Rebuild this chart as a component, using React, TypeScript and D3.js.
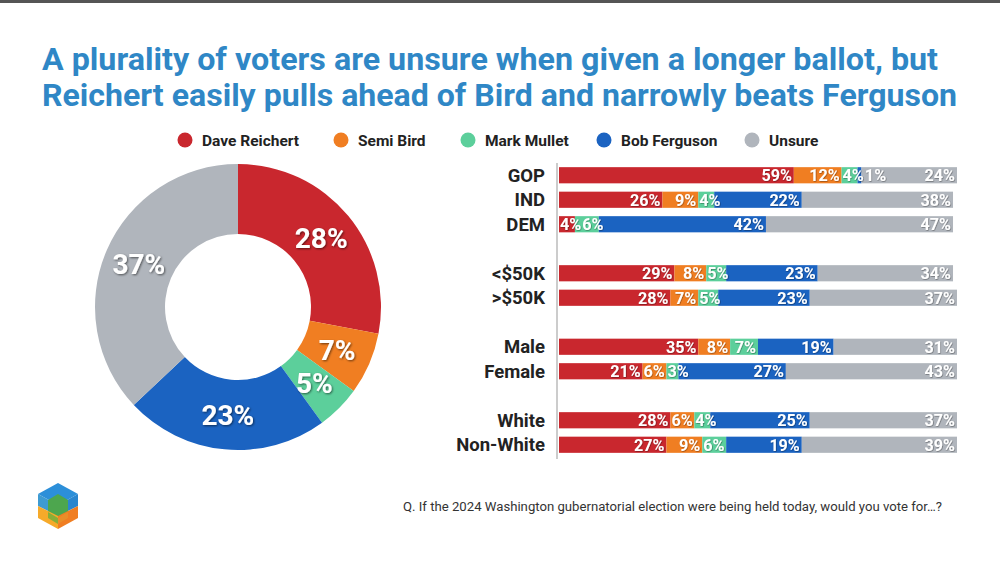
import { useEffect } from 'react';
import * as d3 from 'd3';

// Overall vote share (donut)
const CANDIDATES = ['Dave Reichert', 'Semi Bird', 'Mark Mullet', 'Bob Ferguson', 'Unsure'];
const COLORS = ['#C9272E', '#F07E22', '#5CCF9B', '#1B63C1', '#B0B5BC'];
const OVERALL = [28, 7, 5, 23, 37];

// Crosstab rows (stacked bars)
const GROUPS = ['GOP', 'IND', 'DEM', '<$50K', '>$50K', 'Male', 'Female', 'White', 'Non-White'];
const ROW_SLOTS = ['GOP', 'IND', 'DEM', 'gap1', '<$50K', '>$50K', 'gap2', 'Male', 'Female', 'gap3', 'White', 'Non-White'];
const REICHERT = [59, 26, 4, 29, 28, 35, 21, 28, 27];
const BIRD = [12, 9, 0, 8, 7, 8, 6, 6, 9];
const MULLET = [4, 4, 6, 5, 5, 7, 3, 4, 6];
const FERGUSON = [1, 22, 42, 23, 23, 19, 27, 25, 19];
const UNSURE = [24, 38, 47, 34, 37, 31, 43, 37, 39];

const TITLE_LINES = [
  'A plurality of voters are unsure when given a longer ballot, but',
  'Reichert easily pulls ahead of Bird and narrowly beats Ferguson',
];
const FOOTNOTE = 'Q. If the 2024 Washington gubernatorial election were being held today, would you vote for…?';

const LEGEND_X = [185, 341, 468, 604, 752];

const W = 1000;
const H = 563;
const FONT = 'Roboto, "Open Sans", sans-serif';
const VAL_SIZE = 16;

// rough width of a bold "NN%" label at VAL_SIZE
const labelWidth = (s: string) => (s.length - 1) * VAL_SIZE * 0.57 + VAL_SIZE * 0.76;

export default function App() {
  useEffect(() => {
    document.body.style.margin = '0';
  }, []);

  // donut
  const cx = 238;
  const cy = 307;
  const pie = d3.pie<number>().sort(null).value(d => d);
  const arcs = pie(OVERALL);
  const arc = d3.arc<d3.PieArcDatum<number>>().innerRadius(73).outerRadius(143);

  // bars
  const x = d3.scaleLinear().domain([0, 100]).range([559, 957]);
  const y = d3.scaleBand<string>().domain(ROW_SLOTS).range([163, 457]).paddingInner(0.34).paddingOuter(0.17);
  const seriesValues = [REICHERT, BIRD, MULLET, FERGUSON, UNSURE];
  const table = GROUPS.map((g, i) => {
    const row: Record<string, number | string> = { group: g };
    CANDIDATES.forEach((c, j) => (row[c] = seriesValues[j][i]));
    return row;
  });
  const stacked = d3.stack<Record<string, number | string>>().keys(CANDIDATES)(table);

  // label placement per row: end-aligned inside when it fits, else after segment start,
  // never running into the previous label
  const labels: { x: number; y: number; text: string; key: string }[] = [];
  GROUPS.forEach((g, i) => {
    let prevEnd = -Infinity;
    stacked.forEach(s => {
      const d = s[i];
      const v = d[1] - d[0];
      if (v <= 0) return;
      const text = `${v}%`;
      const w = labelWidth(text);
      const segW = x(d[1]) - x(d[0]);
      let start = segW >= w + 3 ? x(d[1]) - 2 - w : x(d[0]) + 1;
      start = Math.max(start, prevEnd + 1);
      prevEnd = start + w;
      labels.push({ x: start, y: (y(g) || 0) + y.bandwidth() / 2, text, key: g + s.key });
    });
  });

  return (
    <svg width={W} height={H} viewBox={`0 0 ${W} ${H}`} style={{ display: 'block', background: '#fff' }}>
      <defs>
        <filter id="shadow" x="-20%" y="-20%" width="140%" height="140%">
          <feDropShadow dx="1" dy="1" stdDeviation="0.9" floodColor="#000" floodOpacity="0.55" />
        </filter>
        <filter id="shadowSm" x="-20%" y="-30%" width="140%" height="160%">
          <feDropShadow dx="0.6" dy="0.6" stdDeviation="0.6" floodColor="#000" floodOpacity="0.45" />
        </filter>
      </defs>
      <rect x={0} y={0} width={W} height={3} fill="#555" />

      {/* title */}
      {TITLE_LINES.map((t, i) => (
        <text
          key={i}
          x={42}
          y={70 + i * 36}
          fill="#2F87C6"
          fontFamily={FONT}
          fontWeight={700}
          fontSize={31}
          textLength={i === 0 ? 896 : 915}
          lengthAdjust="spacingAndGlyphs"
        >
          {t}
        </text>
      ))}

      {/* legend */}
      {CANDIDATES.map((c, i) => (
        <g key={c} transform={`translate(${LEGEND_X[i]},140)`}>
          <circle r={7.5} fill={COLORS[i]} />
          <text x={17} dy="0.36em" fill="#222" fontFamily={FONT} fontWeight={700} fontSize={15.5}>
            {c}
          </text>
        </g>
      ))}

      {/* donut */}
      <g transform={`translate(${cx},${cy})`}>
        {arcs.map((a, i) => (
          <path key={i} d={arc(a) || ''} fill={COLORS[i]} />
        ))}
        {arcs.map((a, i) => {
          const [lx, ly] = arc.centroid(a);
          return (
            <text
              key={'l' + i}
              x={lx}
              y={ly}
              dy="0.36em"
              textAnchor="middle"
              fill="#fff"
              fontFamily={FONT}
              fontWeight={700}
              fontSize={28}
              filter="url(#shadow)"
            >
              {OVERALL[i]}%
            </text>
          );
        })}
      </g>

      {/* bars */}
      <line x1={557} x2={557} y1={163} y2={459} stroke="#bbb" strokeWidth={1.5} />
      {GROUPS.map(g => (
        <text
          key={g}
          x={545}
          y={(y(g) || 0) + y.bandwidth() / 2}
          dy="0.36em"
          textAnchor="end"
          fill="#222"
          fontFamily={FONT}
          fontWeight={700}
          fontSize={18.5}
        >
          {g}
        </text>
      ))}
      {stacked.map((s, j) => (
        <g key={s.key}>
          {s.map((d, i) => {
            const v = d[1] - d[0];
            if (v <= 0) return null;
            return (
              <rect
                key={i}
                x={x(d[0])}
                y={y(GROUPS[i])}
                width={x(d[1]) - x(d[0])}
                height={y.bandwidth()}
                fill={COLORS[j]}
              />
            );
          })}
        </g>
      ))}
      {labels.map(l => (
        <text
          key={l.key}
          x={l.x}
          y={l.y}
          dy="0.36em"
          fill="#fff"
          fontFamily={FONT}
          fontWeight={700}
          fontSize={VAL_SIZE}
          textLength={labelWidth(l.text)}
          lengthAdjust="spacingAndGlyphs"
          filter="url(#shadowSm)"
        >
          {l.text}
        </text>
      ))}

      {/* footnote */}
      <text
        x={403}
        y={511}
        fill="#333"
        fontFamily={FONT}
        fontSize={12.5}
        textLength={539}
        lengthAdjust="spacingAndGlyphs"
      >
        {FOOTNOTE}
      </text>

      {/* logo */}
      <g transform="translate(58,506)">
        <polygon points="0,-23 20,-12 0,-1 -20,-12" fill="#2C8FD9" />
        <polygon points="-20,-12 0,-1 0,10 -20,0" fill="#3E9BD2" />
        <polygon points="20,-12 0,-1 0,10 20,0" fill="#2A86CF" />
        <polygon points="-10,-6 0,-12 10,-6 10,6 0,12 -10,6" fill="#4DA64E" />
        <polygon points="-20,0 0,10 0,23 -20,12" fill="#F6AA2A" />
        <polygon points="20,0 0,10 0,23 20,12" fill="#F07E22" />
        <polygon points="-10,6 0,12 0,18 -10,12" fill="#6BAF3C" opacity={0.8} />
        <polygon points="10,6 0,12 0,18 10,12" fill="#E9922A" opacity={0.8} />
      </g>
    </svg>
  );
}
